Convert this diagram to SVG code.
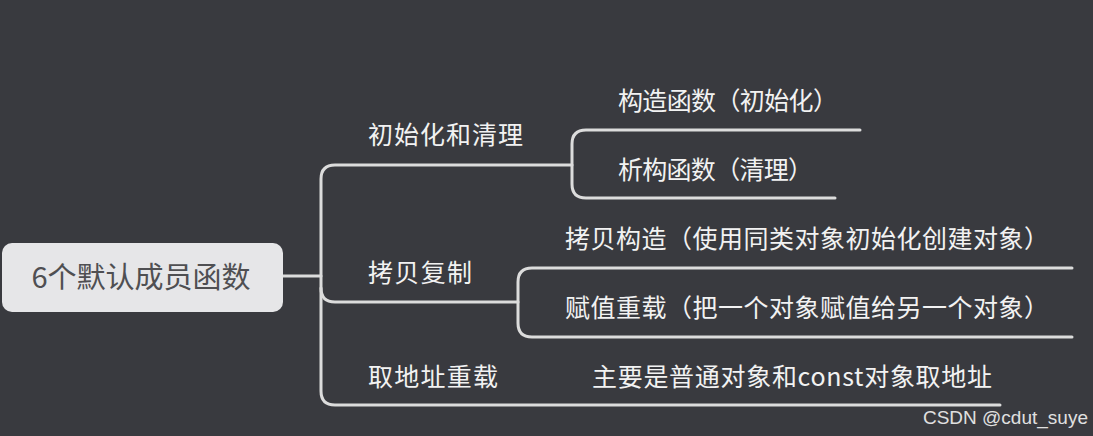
<svg xmlns="http://www.w3.org/2000/svg" width="1093" height="436" viewBox="0 0 1093 436">
<style>
.bg{fill:#393a3f}
.line{fill:none;stroke:#dcdcdc;stroke-width:3;stroke-linecap:round}
.t{font-family:"Noto Sans CJK SC","Noto Sans",sans-serif;fill:#f2f2f2;font-size:25px}
.root{fill:#e6e6e8}
.rt{font-family:"Noto Sans CJK SC","Noto Sans",sans-serif;fill:#4f4f52;font-size:29px}
.wm{font-family:"Liberation Sans",Arial,sans-serif;fill:#e0e0e0;font-size:19px}
</style>
<rect class="bg" x="0" y="0" width="1093" height="436"/>
<g id="connectors">
<path class="line" d="M283,276 L321,276"/>
<path class="line" d="M572,165 L335,165 Q321,165 321,179 L321,391 Q321,405 335,405 L1000,405"/>
<path class="line" d="M321,288 Q321,302 335,302 L518,302"/>
<path class="line" d="M860,130 L586,130 Q572,130 572,144 L572,184 Q572,198 586,198 L835,198"/>
<path class="line" d="M1072,268 L532,268 Q518,268 518,282 L518,323 Q518,337 532,337 L1072,337"/>
</g>
<g id="root">
<rect class="root" x="2" y="243" width="281" height="69" rx="10"/>
<text class="rt" x="141" y="288" text-anchor="middle">6个默认成员函数</text>
</g>
<g id="n-init"><text class="t" x="368" y="144" textLength="155">初始化和清理</text></g>
<g id="n-ctor"><text class="t" x="618" y="110" textLength="220">构造函数（初始化）</text></g>
<g id="n-dtor"><text class="t" x="618" y="179" textLength="195">析构函数（清理）</text></g>
<g id="n-copy"><text class="t" x="368" y="282" textLength="104">拷贝复制</text></g>
<g id="n-cctor"><text class="t" x="565" y="248" textLength="484">拷贝构造（使用同类对象初始化创建对象）</text></g>
<g id="n-assign"><text class="t" x="565" y="317" textLength="484">赋值重载（把一个对象赋值给另一个对象）</text></g>
<g id="n-addr"><text class="t" x="368" y="386" textLength="130">取地址重载</text></g>
<g id="n-addr-desc"><text class="t" x="592" y="386" textLength="400">主要是普通对象和const对象取地址</text></g>
<text class="wm" x="1088" y="424" text-anchor="end">CSDN @cdut_suye</text>
</svg>
